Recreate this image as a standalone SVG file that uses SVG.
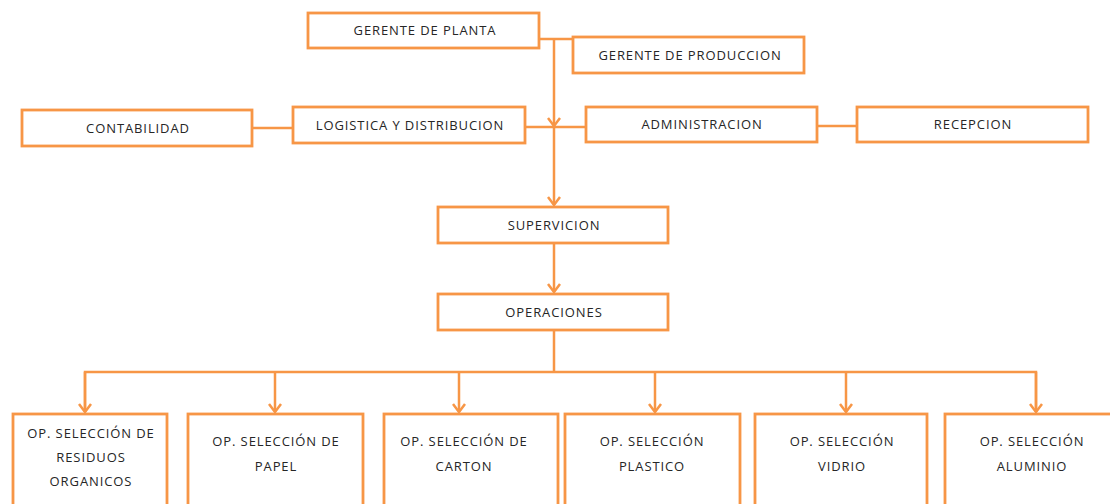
<svg xmlns="http://www.w3.org/2000/svg" width="1110" height="504" viewBox="0 0 1110 504">
<defs>
<marker id="chev" viewBox="-7 -9 14 11" refX="0" refY="0" markerWidth="14" markerHeight="11" markerUnits="userSpaceOnUse" orient="0">
<path d="M-6,-8 L0,0 L6,-8" fill="none" stroke="#F79646" stroke-width="2.5" stroke-linejoin="miter"/>
</marker>
</defs>
<style>
.box{fill:#fff;stroke:#F79646;stroke-width:2.8}
.t{font-family:"Open Sans","Liberation Sans",sans-serif;font-size:13px;letter-spacing:0.9px;fill:#262626;text-anchor:middle}
.c{fill:none;stroke:#F79646;stroke-width:2.5}
</style>
<rect width="1110" height="504" fill="#fff"/>
<g id="connectors">
<path class="c" d="M539,39 H573"/>
<path class="c" d="M554,39 V126" marker-end="url(#chev)"/>
<path class="c" d="M554,127 V205" marker-end="url(#chev)"/>
<path class="c" d="M525,127 H586"/>
<path class="c" d="M252,128 H293"/>
<path class="c" d="M817,126 H857"/>
<path class="c" d="M554,243 V292" marker-end="url(#chev)"/>
<path class="c" d="M554,330 V372"/>
<path class="c" d="M85,412 V372 H1036 V412"/>
<path class="c" d="M85,372 V412" marker-end="url(#chev)"/>
<path class="c" d="M275,372 V412" marker-end="url(#chev)"/>
<path class="c" d="M459,372 V412" marker-end="url(#chev)"/>
<path class="c" d="M655,372 V412" marker-end="url(#chev)"/>
<path class="c" d="M846,372 V412" marker-end="url(#chev)"/>
<path class="c" d="M1036,372 V412" marker-end="url(#chev)"/>
</g>
<g id="gerente-planta"><rect class="box" x="308" y="13" width="231" height="35"/><text class="t" x="425" y="35">GERENTE DE PLANTA</text></g>
<g id="gerente-produccion"><rect class="box" x="573" y="37" width="231" height="36"/><text class="t" x="690" y="60">GERENTE DE PRODUCCION</text></g>
<g id="contabilidad"><rect class="box" x="22" y="110" width="230" height="36"/><text class="t" x="138" y="133">CONTABILIDAD</text></g>
<g id="logistica"><rect class="box" x="293" y="107" width="232" height="36"/><text class="t" x="410" y="130">LOGISTICA Y DISTRIBUCION</text></g>
<g id="administracion"><rect class="box" x="586" y="107" width="231" height="35"/><text class="t" x="702" y="129">ADMINISTRACION</text></g>
<g id="recepcion"><rect class="box" x="857" y="107" width="231" height="35"/><text class="t" x="973" y="129">RECEPCION</text></g>
<g id="supervicion"><rect class="box" x="438" y="207" width="230" height="36"/><text class="t" x="554" y="230">SUPERVICION</text></g>
<g id="operaciones"><rect class="box" x="438" y="294" width="230" height="36"/><text class="t" x="554" y="317">OPERACIONES</text></g>
<g id="op-organicos"><rect class="box" x="13" y="414" width="154" height="100"/><text class="t" x="91" y="438">OP. SELECCIÓN DE</text><text class="t" x="91" y="462">RESIDUOS</text><text class="t" x="91" y="486">ORGANICOS</text></g>
<g id="op-papel"><rect class="box" x="188" y="414" width="175" height="100"/><text class="t" x="276" y="446">OP. SELECCIÓN DE</text><text class="t" x="276" y="471">PAPEL</text></g>
<g id="op-carton"><rect class="box" x="384" y="414" width="174" height="100"/><text class="t" x="464" y="446">OP. SELECCIÓN DE</text><text class="t" x="464" y="471">CARTON</text></g>
<g id="op-plastico"><rect class="box" x="565" y="414" width="175" height="100"/><text class="t" x="652" y="446">OP. SELECCIÓN</text><text class="t" x="652" y="471">PLASTICO</text></g>
<g id="op-vidrio"><rect class="box" x="755" y="414" width="172" height="100"/><text class="t" x="842" y="446">OP. SELECCIÓN</text><text class="t" x="842" y="471">VIDRIO</text></g>
<g id="op-aluminio"><rect class="box" x="945" y="414" width="172" height="100"/><text class="t" x="1032" y="446">OP. SELECCIÓN</text><text class="t" x="1032" y="471">ALUMINIO</text></g>
</svg>
